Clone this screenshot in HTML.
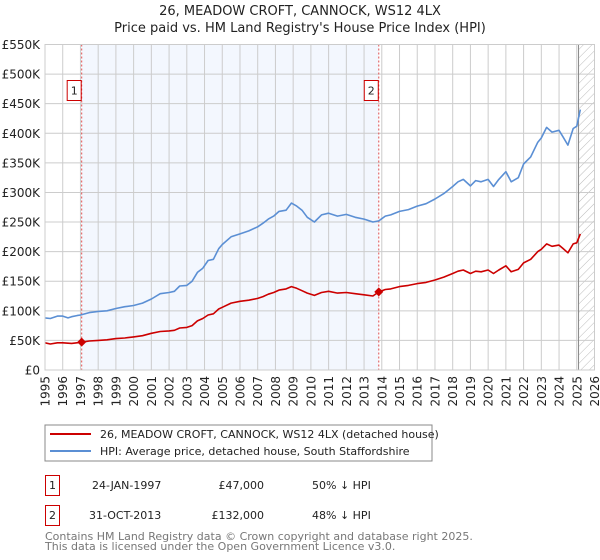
<!DOCTYPE html>
<html><head><meta charset="utf-8"><style>
body{margin:0;background:#fff;font-family:"DejaVu Sans","Liberation Sans",sans-serif;}
svg{display:block}
</style></head><body>
<svg id="c" width="600" height="560" xmlns="http://www.w3.org/2000/svg" font-family="DejaVu Sans, Liberation Sans, sans-serif">
<defs><pattern id="hatch" width="6" height="6" patternUnits="userSpaceOnUse" patternTransform="rotate(45)"><line x1="0" y1="0" x2="0" y2="6" stroke="#bbb" stroke-width="1"/></pattern></defs>
<text x="300" y="15" text-anchor="middle" font-size="13" fill="#222">26, MEADOW CROFT, CANNOCK, WS12 4LX</text>
<text x="300" y="32" text-anchor="middle" font-size="13" fill="#222">Price paid vs. HM Land Registry's House Price Index (HPI)</text>
<g id="plot"></g>
<rect x="45" y="425" width="387" height="36" fill="#fff" stroke="#888"/>
<line x1="50" y1="434" x2="91" y2="434" stroke="#cc0000" stroke-width="2"/>
<text x="100" y="438" font-size="11" fill="#222">26, MEADOW CROFT, CANNOCK, WS12 4LX (detached house)</text>
<line x1="50" y1="451" x2="91" y2="451" stroke="#5b8fd4" stroke-width="2"/>
<text x="100" y="455" font-size="11" fill="#222">HPI: Average price, detached house, South Staffordshire</text>
<g font-size="11" fill="#222">
<rect x="45.5" y="475.5" width="14" height="20" fill="#fff" stroke="#cc0000"/>
<text x="52.5" y="489" text-anchor="middle">1</text>
<text x="92" y="489">24-JAN-1997</text>
<text x="264" y="489" text-anchor="end">£47,000</text>
<text x="312" y="489">50% ↓ HPI</text>
<rect x="45.5" y="505.5" width="14" height="20" fill="#fff" stroke="#cc0000"/>
<text x="52.5" y="519" text-anchor="middle">2</text>
<text x="89" y="519">31-OCT-2013</text>
<text x="264" y="519" text-anchor="end">£132,000</text>
<text x="312" y="519">48% ↓ HPI</text>
</g>
<text x="45" y="540" font-size="11" fill="#777">Contains HM Land Registry data © Crown copyright and database right 2025.</text>
<text x="45" y="550" font-size="11" fill="#777">This data is licensed under the Open Government Licence v3.0.</text>
</svg>
<script>
const yTicks=[0,50,100,150,200,250,300,350,400,450,500,550];
const yTickLabels=["£0","£50K","£100K","£150K","£200K","£250K","£300K","£350K","£400K","£450K","£500K","£550K"];
const xYears=[1995,1996,1997,1998,1999,2000,2001,2002,2003,2004,2005,2006,2007,2008,2009,2010,2011,2012,2013,2014,2015,2016,2017,2018,2019,2020,2021,2022,2023,2024,2025,2026];
const hpiT=[1995,1995.3,1995.7,1996,1996.3,1996.5,1996.8,1997,1997.5,1998,1998.5,1999,1999.5,2000,2000.5,2001,2001.5,2002,2002.3,2002.6,2003,2003.3,2003.6,2003.9,2004.2,2004.5,2004.8,2005,2005.5,2006,2006.5,2007,2007.3,2007.6,2007.9,2008.2,2008.6,2008.9,2009.2,2009.5,2009.8,2010.2,2010.6,2011,2011.5,2012,2012.5,2013,2013.5,2013.83,2014.2,2014.5,2015,2015.5,2016,2016.5,2017,2017.5,2018,2018.3,2018.6,2019,2019.3,2019.6,2020,2020.3,2020.6,2021,2021.3,2021.7,2022,2022.4,2022.8,2023,2023.3,2023.6,2024,2024.2,2024.5,2024.8,2025,2025.2];
const hpiV=[88,87,91,91,88,90,92,93,97,99,100,104,107,109,113,120,129,131,133,142,143,150,165,172,185,187,205,212,225,230,235,242,248,255,260,268,270,282,277,270,258,250,262,265,260,263,258,255,250,252,260,262,268,271,277,281,289,298,310,318,322,311,320,318,322,310,322,335,318,325,348,360,385,392,410,402,405,395,380,408,412,440,430];
const redT=[1995,1995.3,1995.7,1996,1996.5,1996.8,1997.07,1997.5,1998,1998.5,1999,1999.5,2000,2000.5,2001,2001.5,2002,2002.3,2002.6,2003,2003.3,2003.6,2003.9,2004.2,2004.5,2004.8,2005,2005.5,2006,2006.5,2007,2007.3,2007.6,2007.9,2008.2,2008.6,2008.9,2009.2,2009.5,2009.8,2010.2,2010.6,2011,2011.5,2012,2012.5,2013,2013.5,2013.83,2014.2,2014.5,2015,2015.5,2016,2016.5,2017,2017.5,2018,2018.3,2018.6,2019,2019.3,2019.6,2020,2020.3,2020.6,2021,2021.3,2021.7,2022,2022.4,2022.8,2023,2023.3,2023.6,2024,2024.2,2024.5,2024.8,2025,2025.2];
const redV=[46,44,46,46,45,46,47,49,50,51,53,54,56,58,62,65,66,67,71,72,75,83,87,93,95,103,106,113,116,118,121,124,128,131,135,137,141,138,134,130,126,131,133,130,131,129,127,125,132,136,137,141,143,146,148,152,157,163,167,169,163,167,166,169,163,169,176,166,170,181,187,200,204,213,209,211,206,198,213,215,230,224];
const sales=[{t:1997.07,v:47,n:"1"},{t:2013.83,v:132,n:"2"}];
const L=45,R=594.5,T=44.5,B=370;
const X=t=>L+(t-1995)/31*(R-L);
const Y=v=>B-v/550*(B-T);
const NS="http://www.w3.org/2000/svg";
const g=document.getElementById('plot');
function mk(tag,a){const e=document.createElementNS(NS,tag);for(const k in a)e.setAttribute(k,a[k]);g.appendChild(e);return e;}
let e;
e=mk('rect',{x:X(sales[0].t),y:T,width:X(sales[1].t)-X(sales[0].t),height:B-T,fill:'#eef3fd',opacity:0.7});


e=mk('rect',{x:X(2025.1),y:T,width:R-X(2025.1),height:B-T,fill:'url(#hatch)'});


yTicks.forEach((v,i)=>{
 e=mk('line',{x1:L,x2:R,y1:Y(v),y2:Y(v),stroke:'#ccc','stroke-width':1});
 
 
 e=mk('text',{x:L-5,y:Y(v)+4.5,'text-anchor':'end','font-size':12,fill:'#222'});e.textContent=yTickLabels[i];
 
 
});
xYears.forEach(y=>{
 e=mk('line',{x1:X(y),x2:X(y),y1:T,y2:B,stroke:'#ccc','stroke-width':1});
 
 
 e=mk('text',{x:0,y:0,'font-size':12,fill:'#222','text-anchor':'end',transform:`translate(${X(y)+4.5},${B+6}) rotate(-90)`});e.textContent=y;
 
 
});
e=mk('line',{x1:X(2025.1),x2:X(2025.1),y1:T,y2:B,stroke:'#888','stroke-width':1});


sales.forEach(s=>{
 e=mk('line',{x1:X(s.t),x2:X(s.t),y1:T,y2:B,stroke:'#e05050','stroke-width':1,'stroke-dasharray':'2,2'});
 
 
});
function path(ts,vs,col,name){
 const d=ts.map((t,i)=>(i?'L':'M')+X(t).toFixed(1)+','+Y(vs[i]).toFixed(1)).join('');
 e=mk('path',{d,fill:'none',stroke:col,'stroke-width':1.6,'stroke-linejoin':'round'});
 
 
}
path(hpiT,hpiV,'#5b8fd4','hpi-line');
path(redT,redV,'#cc0000','property-price-line');
sales.forEach(s=>{
 e=mk('path',{d:`M${X(s.t)},${Y(s.v)-4.5}l4.5,4.5l-4.5,4.5l-4.5,-4.5z`,fill:'#cc0000'});
 
 
 e=mk('rect',{x:X(s.t)-14.5,y:T+36,width:14,height:20,fill:'#fff',stroke:'#cc0000'});
 
 
 e=mk('text',{x:X(s.t)-7.5,y:T+50,'text-anchor':'middle','font-size':11,fill:'#222'});e.textContent=s.n;
 
 
});
e=mk('rect',{x:L,y:T,width:R-L,height:B-T,fill:'none',stroke:'#ccc'});


</script>
</body></html>
